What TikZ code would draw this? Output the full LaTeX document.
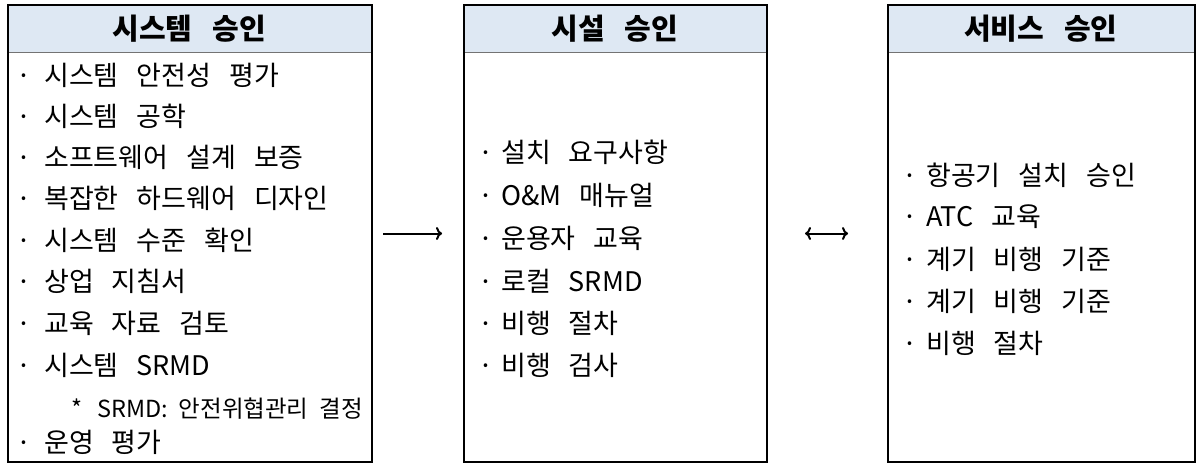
\documentclass[tikz,border=0pt]{standalone}
\usepackage{fontspec}
\setmainfont{Noto Sans CJK KR}
\usetikzlibrary{arrows.meta}
\definecolor{hdblue}{HTML}{DEE8F3}
\newcommand{\hdfnt}{\fontsize{29}{32}\selectfont\bfseries\spaceskip=20pt\relax}
\newcommand{\itfnt}{\fontsize{27}{30}\selectfont\spaceskip=18pt\relax}
\newcommand{\ntfnt}{\fontsize{23.5}{26}\selectfont\spaceskip=11pt\relax}
\tikzset{
  header/.style={fill=hdblue, minimum width=#1, minimum height=48pt, inner sep=0pt,
    anchor=north west, font=\hdfnt},
  boxframe/.style={draw=black, line width=2pt, minimum width=#1, minimum height=457pt,
    inner sep=0pt, anchor=north west},
  divider/.style={draw=black!55, line width=1pt},
  item/.style={anchor=west, inner sep=0pt, font=\itfnt},
  note/.style={anchor=west, inner sep=0pt, font=\ntfnt},
  flowarrow/.style={line width=2pt, -{To[length=6pt,width=13pt]}},
  bothways/.style={line width=2pt, {To[length=6pt,width=13pt]}-{To[length=6pt,width=13pt]}}
}
\newcommand{\bul}[1]{\makebox[#1][l]{·}}
\begin{document}
\begin{tikzpicture}[x=1pt,y=-1pt]
\useasboundingbox (0,0) rectangle (1198,465);
% box 1
\node[header=364pt] (h1) at (7,4) {시스템 승인};
\draw[divider] (h1.south west) -- (h1.south east);
\node[boxframe=364pt] (b1) at (7,4) {};
% box 2
\node[header=303pt] (h2) at (463,4) {시설 승인};
\draw[divider] (h2.south west) -- (h2.south east);
\node[boxframe=303pt] (b2) at (463,4) {};
% box 3
\node[header=307pt] (h3) at (887,4) {서비스 승인};
\draw[divider] (h3.south west) -- (h3.south east);
\node[boxframe=307pt] (b3) at (887,4) {};
% items box 1
\node[item] (a1) at (16,75) {\bul{28pt}시스템 안전성 평가};
\node[item] (a2) at (16,116) {\bul{28pt}시스템 공학};
\node[item] (a3) at (16,157) {\bul{28pt}소프트웨어 설계 보증};
\node[item] (a4) at (16,198) {\bul{28pt}복잡한 하드웨어 디자인};
\node[item] (a5) at (16,240) {\bul{28pt}시스템 수준 확인};
\node[item] (a6) at (16,281) {\bul{28pt}상업 지침서};
\node[item] (a7) at (16,323) {\bul{28pt}교육 자료 검토};
\node[item] (a8) at (16,365) {\bul{28pt}시스템 SRMD};
\node[note] (n1) at (71,409) {*\hspace{15pt}SRMD: 안전위협관리 결정};
\node[item] (a9) at (16,442) {\bul{28pt}운영 평가};
% items box 2
\node[item] (c1) at (478,152) {\bul{23pt}설치 요구사항};
\node[item] (c2) at (478,195) {\bul{23pt}O\&M 매뉴얼};
\node[item] (c3) at (478,238) {\bul{23pt}운용자 교육};
\node[item] (c4) at (478,281) {\bul{23pt}로컬 SRMD};
\node[item] (c5) at (478,323) {\bul{23pt}비행 절차};
\node[item] (c6) at (478,365) {\bul{23pt}비행 검사};
% items box 3
\node[item] (d1) at (902,175) {\bul{24pt}항공기 설치 승인};
\node[item] (d2) at (902,217) {\bul{24pt}ATC 교육};
\node[item] (d3) at (902,259) {\bul{24pt}계기 비행 기준};
\node[item] (d4) at (902,301) {\bul{24pt}계기 비행 기준};
\node[item] (d5) at (902,343) {\bul{24pt}비행 절차};
% arrows
\draw[flowarrow, shorten <=10pt, shorten >=21pt] (b1.east) -- (b2.west);
\draw[bothways, shorten <=37pt, shorten >=39pt] (b2.east) -- (b3.west);
\end{tikzpicture}
\end{document}
